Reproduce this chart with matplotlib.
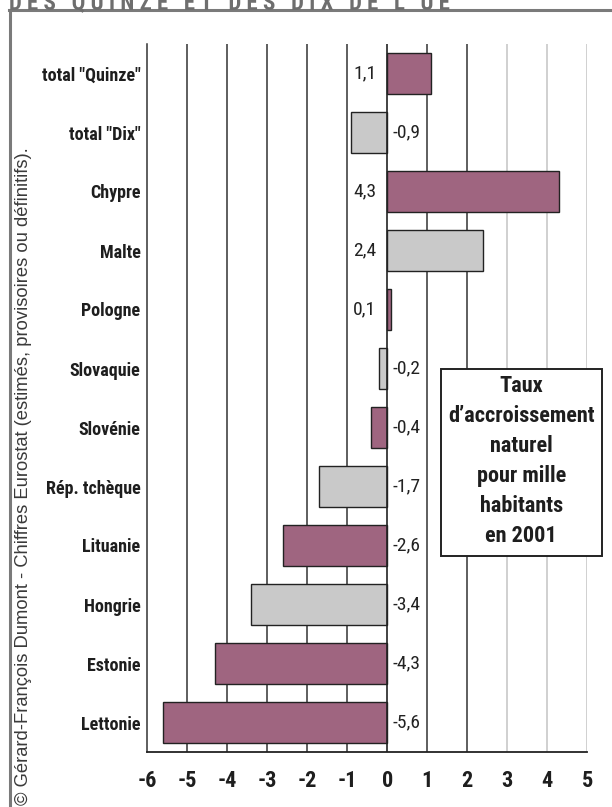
import matplotlib
matplotlib.use("Agg")
import matplotlib.pyplot as plt
from matplotlib.lines import Line2D
from matplotlib.patches import Rectangle

categories = ['total "Quinze"', 'total "Dix"', 'Chypre', 'Malte', 'Pologne', 'Slovaquie',
              'Slovénie', 'Rép. tchèque', 'Lituanie', 'Hongrie', 'Estonie', 'Lettonie']
values = [1.1, -0.9, 4.3, 2.4, 0.1, -0.2, -0.4, -1.7, -2.6, -3.4, -4.3, -5.6]
value_labels = ['1,1', '-0,9', '4,3', '2,4', '0,1', '-0,2', '-0,4', '-1,7', '-2,6', '-3,4', '-4,3', '-5,6']
groups = ['q', 'd', 'q', 'd', 'q', 'd', 'q', 'd', 'q', 'd', 'q', 'q']
x_ticks = [-6, -5, -4, -3, -2, -1, 0, 1, 2, 3, 4, 5]
title = "DES QUINZE ET DES DIX DE L’UE"
box_text = "Taux\nd’accroissement\nnaturel\npour mille\nhabitants\nen 2001"
credit = "© Gérard-François Dumont - Chiffres Eurostat (estimés, provisoires ou définitifs)."

PURPLE = '#9f6580'
GREY = '#c9c9c9'
colors = {'q': PURPLE, 'd': GREY}

NARROW = ['Roboto Condensed', 'PT Sans Narrow', 'DejaVu Sans']
REG = ['Liberation Sans', 'DejaVu Sans']

W, H = 612, 807
fig = plt.figure(figsize=(W / 100, H / 100), dpi=100)
fig.patch.set_facecolor('white')

ax = fig.add_axes([147.4 / W, 1 - 752 / H, (587.2 - 147.4) / W, (752 - 44) / H])
ax.set_xlim(-6, 5)
ax.set_ylim(len(categories) - 0.5, -0.5)

for t in x_ticks[1:]:
    if t == 0:
        continue
    c = '#c4c4c4' if t >= 3 else '#333333'
    ax.axvline(t, color=c, lw=1.1, zorder=1)

ypos = list(range(len(categories)))
ax.barh(ypos, values, height=0.71, color=[colors[g] for g in groups],
        edgecolor='#222222', linewidth=1.0, zorder=3)
ax.axvline(0, color='#222222', lw=1.2, zorder=4)

for y, v, lab in zip(ypos, values, value_labels):
    if v >= 0:
        ax.annotate(lab, (0, y), xytext=(-8, 0), textcoords='offset points',
                    ha='right', va='center', fontsize=14, family=NARROW,
                    color='#222222', zorder=5)
    else:
        ax.annotate(lab, (0, y), xytext=(4, 0), textcoords='offset points',
                    ha='left', va='center', fontsize=14, family=NARROW,
                    color='#222222', zorder=5)

ax.set_yticks(ypos)
ax.set_yticklabels(categories, family=NARROW, fontweight='bold', fontsize=13, color='#1e1e1e')
ax.set_xticks(x_ticks)
ax.set_xticklabels([str(t) for t in x_ticks], family=NARROW, fontweight='bold', fontsize=16, color='#1e1e1e')
ax.tick_params(axis='both', length=0)
ax.tick_params(axis='x', pad=13)
ax.tick_params(axis='y', pad=5)

for s in ['top', 'right']:
    ax.spines[s].set_visible(False)
ax.spines['left'].set_color('#333333')
ax.spines['left'].set_linewidth(1.1)
ax.spines['bottom'].set_color('#222222')
ax.spines['bottom'].set_linewidth(1.3)

# outer frame
fig.add_artist(Line2D([9.5 / W, 9.5 / W], [0, 1 - 10 / H], color='#7a7a7a', lw=2.2, transform=fig.transFigure))
fig.add_artist(Line2D([8.5 / W, 1], [1 - 10 / H, 1 - 10 / H], color='#7a7a7a', lw=2.2, transform=fig.transFigure))

# cropped title
fig.text(9 / W, 1 - 9 / H, ' '.join(title), family=NARROW, fontweight='bold', fontsize=16.5,
         color='#6e6e6e', ha='left', va='baseline')

# credit
fig.text(24 / W, 1 - 805 / H, credit, rotation=90, family=REG, fontsize=13.2,
         color='#3a3a3a', ha='center', va='bottom')

# legend box
bx0, by0, bx1, by1 = 440.7, 369, 601.7, 556
fig.add_artist(Rectangle((bx0 / W, 1 - by1 / H), (bx1 - bx0) / W, (by1 - by0) / H,
                         transform=fig.transFigure, facecolor='white', edgecolor='#222222',
                         lw=1.4, zorder=10))
fig.text((bx0 + bx1) / 2 / W, 1 - 461 / H, box_text, family=NARROW, fontweight='bold',
         fontsize=16, color='#1e1e1e', ha='center', va='center', linespacing=1.47, zorder=11)

fig.savefig('out.png', dpi=100)
